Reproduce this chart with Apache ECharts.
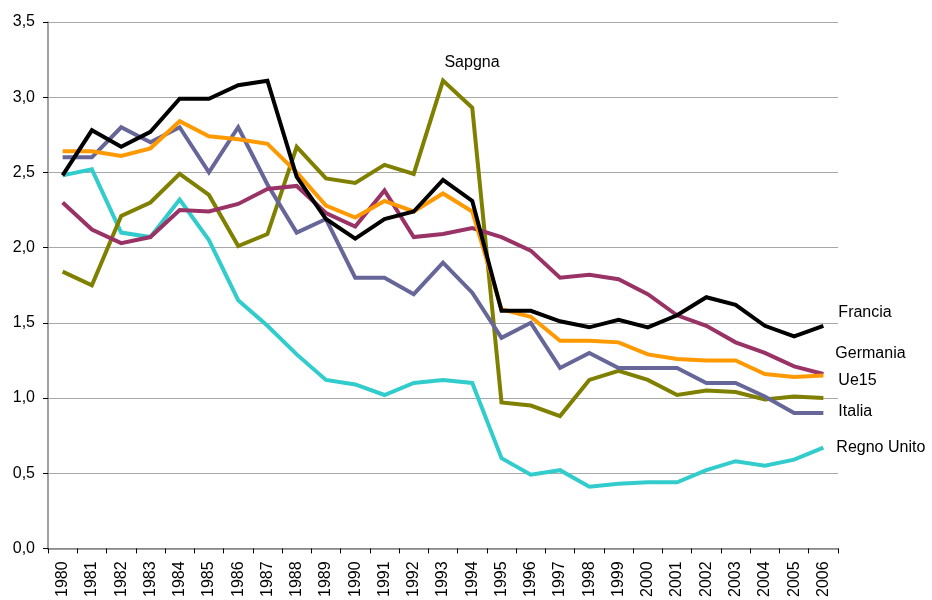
<!DOCTYPE html>
<html>
<head>
<meta charset="UTF-8">
<title></title>
<script src="https://cdn.jsdelivr.net/npm/echarts@6/dist/echarts.min.js"></script>
<style type="text/css">
	* {margin: 0; padding: 0;}
	body {background: #fff;}
</style>
</head>
<body>
<div id="chart" style="width:932px;height:600px"></div>
<script type="text/javascript">
var anni = ['1980','1981','1982','1983','1984','1985','1986','1987','1988','1989','1990','1991','1992','1993',
	'1994','1995','1996','1997','1998','1999','2000','2001','2002','2003','2004','2005','2006'];

var francia  = [2.48,2.78,2.67,2.77,2.99,2.99,3.08,3.11,2.47,2.19,2.06,2.19,2.24,2.45,2.31,1.58,1.58,1.51,1.47,1.52,1.47,1.55,1.67,1.62,1.48,1.41,1.48];
var germania = [2.30,2.12,2.03,2.07,2.25,2.24,2.29,2.39,2.41,2.23,2.14,2.38,2.07,2.09,2.13,2.07,1.98,1.80,1.82,1.79,1.69,1.55,1.48,1.37,1.30,1.21,1.16];
var ue15     = [2.64,2.64,2.61,2.66,2.84,2.74,2.72,2.69,2.50,2.28,2.20,2.31,2.24,2.36,2.24,1.59,1.54,1.38,1.38,1.37,1.29,1.26,1.25,1.25,1.16,1.14,1.15];
var italia   = [2.60,2.60,2.80,2.70,2.80,2.50,2.80,2.42,2.10,2.19,1.80,1.80,1.69,1.90,1.70,1.40,1.50,1.20,1.30,1.20,1.20,1.20,1.10,1.10,1.01,0.90,0.90];
var spagna   = [1.84,1.75,2.21,2.30,2.49,2.35,2.01,2.09,2.67,2.46,2.43,2.55,2.49,3.11,2.93,0.97,0.95,0.88,1.12,1.18,1.12,1.02,1.05,1.04,0.99,1.01,1.00];
var regnoUnito = [2.48,2.52,2.10,2.07,2.32,2.05,1.65,1.48,1.29,1.12,1.09,1.02,1.10,1.12,1.10,0.60,0.49,0.52,0.41,0.43,0.44,0.44,0.52,0.58,0.55,0.59,0.67];

var yTicks = [0,0.5,1,1.5,2,2.5,3,3.5];

var chart = echarts.init(document.getElementById('chart'));
var font = 'Liberation Sans, Arial, sans-serif';

function linea(nome, dati, colore, offset) {
	return {
		name: nome,
		type: 'line',
		data: dati,
		symbol: 'none',
		silent: true,
		animation: false,
		lineStyle: {color: colore, width: 4, join: 'miter'},
		endLabel: offset ? {
			show: true,
			formatter: nome,
			color: '#000',
			fontSize: 16,
			fontFamily: font,
			offset: offset
		} : {show: false}
	};
}

var serieSpagna = linea('Sapgna', spagna, '#808000', null);
serieSpagna.markPoint = {
	symbol: 'circle',
	symbolSize: 0,
	silent: true,
	data: [{coord: [anni[13], spagna[13]], value: 'Sapgna'}],
	label: {
		show: true,
		position: 'inside',
		formatter: 'Sapgna',
		color: '#000',
		fontSize: 16,
		fontFamily: font,
		offset: [29, -18]
	}
};

var option = {
	backgroundColor: '#fff',
	animation: false,
	grid: {left: 48, right: 94, top: 22, bottom: 51},
	xAxis: {
		type: 'category',
		data: anni,
		boundaryGap: true,
		axisLine: {lineStyle: {color: '#808080', width: 1.5}},
		axisTick: {show: true, length: 5, lineStyle: {color: '#000'}},
		axisLabel: {rotate: 90, fontSize: 16, fontFamily: font, color: '#000', margin: 13, interval: 0},
		splitLine: {show: false}
	},
	yAxis: {
		type: 'value',
		min: 0,
		max: 3.5,
		interval: 0.5,
		axisLine: {show: true, lineStyle: {color: '#808080', width: 1.5}},
		axisTick: {show: true, length: 5, lineStyle: {color: '#000'}},
		axisLabel: {
			fontSize: 16, fontFamily: font, color: '#000', margin: 13,
			formatter: function (v) {
				return yTicks.indexOf(v) >= 0 ? v.toFixed(1).replace('.', ',') : '';
			}
		},
		splitLine: {lineStyle: {color: '#a8a8a8', width: 1}}
	},
	series: [
		linea('Regno Unito', regnoUnito, '#33CCCC', [5, 0]),
		serieSpagna,
		linea('Italia', italia, '#666699', [7, -1]),
		linea('Germania', germania, '#993366', [4, -20]),
		linea('Ue15', ue15, '#FF9900', [7, 5]),
		linea('Francia', francia, '#000000', [7, -13])
	]
};

chart.setOption(option);
</script>
</body>
</html>
